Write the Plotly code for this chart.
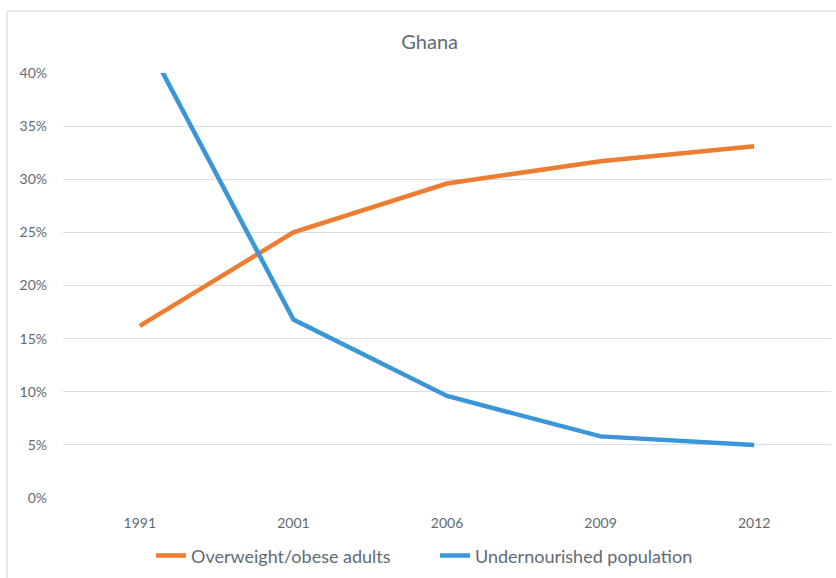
import plotly.graph_objects as go

# Survey years and the two indicators (share of population, %)
years = ["1991", "2001", "2006", "2009", "2012"]
overweight = [16.2, 25.0, 29.6, 31.7, 33.1]
undernourished = [44.1, 16.8, 9.6, 5.8, 5.0]
y_ticks = [0, 5, 10, 15, 20, 25, 30, 35, 40]
y_labels = [f"{v}%" for v in y_ticks]

text_color = "#5F6B73"
font_family = "Lato, 'Open Sans', sans-serif"

fig = go.Figure()
fig.add_trace(go.Scatter(
    x=years, y=overweight, mode="lines", name="Overweight/obese adults",
    line=dict(color="#ED7D31", width=4.5),
))
fig.add_trace(go.Scatter(
    x=years, y=undernourished, mode="lines", name="Undernourished population",
    line=dict(color="#3A96D8", width=4.5),
))

fig.update_layout(
    width=836, height=578,
    margin=dict(l=63, r=5, t=73, b=79),
    paper_bgcolor="white", plot_bgcolor="white",
    font=dict(family=font_family, color=text_color, size=12),
    title=dict(text="Ghana", x=0.514, xanchor="center", y=0.927, yanchor="middle",
               font=dict(size=20, color=text_color, family=font_family)),
    showlegend=True,
    legend=dict(orientation="h", x=0.1146, xanchor="left", y=-0.09, yanchor="top",
                font=dict(size=18, color=text_color, family=font_family),
                itemwidth=30, entrywidth=239, entrywidthmode="pixels",
                tracegroupgap=0, bgcolor="rgba(0,0,0,0)"),
    xaxis=dict(type="category", range=[-0.5, 4.5], showgrid=False, zeroline=False,
               showline=False, ticks="", ticklabelstandoff=15, tickfont=dict(size=14)),
    yaxis=dict(range=[0, 40], tickvals=y_ticks, ticktext=y_labels,
               showgrid=True, gridcolor="#D9DEE3", gridwidth=1,
               zeroline=False, showline=False, ticks="", ticklabelstandoff=15,
               tickfont=dict(size=14)),
    shapes=[
        # chart frame (top and left edges)
        dict(type="line", xref="paper", yref="paper",
             x0=-0.0729, x1=1.01, y0=1.1455, y1=1.1455,
             line=dict(color="#D5DADF", width=1.2)),
        dict(type="line", xref="paper", yref="paper",
             x0=-0.0729, x1=-0.0729, y0=1.1455, y1=-0.19,
             line=dict(color="#D5DADF", width=1.2)),
    ],
)

fig.write_html("out.html")
